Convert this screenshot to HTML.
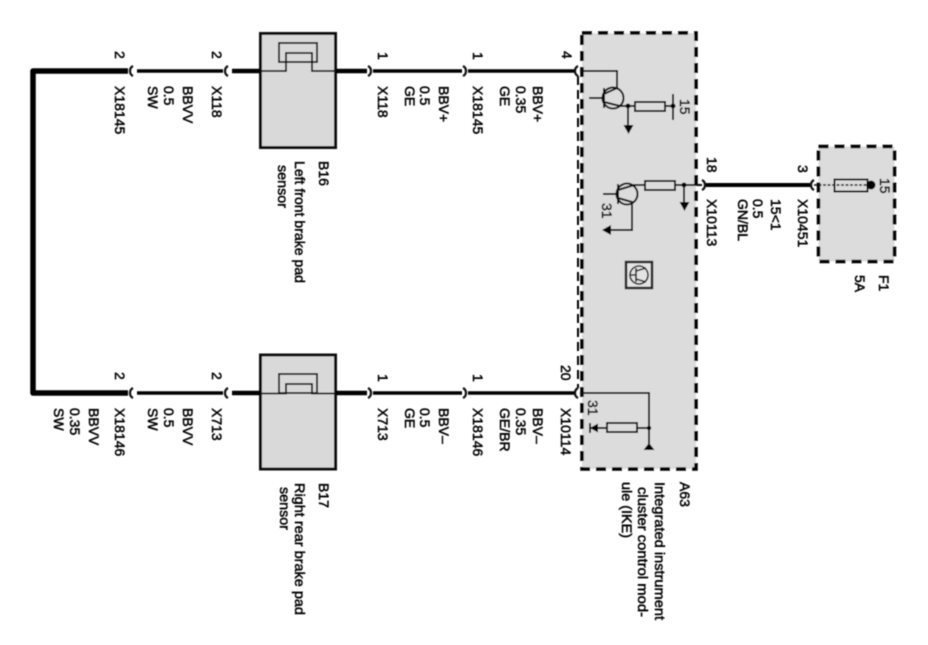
<!DOCTYPE html>
<html>
<head>
<meta charset="utf-8">
<style>
html,body{margin:0;padding:0;background:#fff;width:928px;height:645px;overflow:hidden}
svg{display:block}
text{font-family:"Liberation Sans",sans-serif;font-size:14px;fill:#000;stroke:#000;stroke-width:.5}
</style>
</head>
<body>
<svg width="928" height="645" viewBox="0 0 928 645" xmlns="http://www.w3.org/2000/svg">
<defs>
<filter id="b" x="-2%" y="-2%" width="104%" height="104%"><feGaussianBlur stdDeviation="0.45"/></filter>
</defs>
<g filter="url(#b)">
<!-- boxes -->
<rect x="260.500" y="33.500" width="75" height="114" fill="#d9d9d9" stroke="#111" stroke-width="3"/>
<rect x="260.500" y="355" width="75" height="114" fill="#d9d9d9" stroke="#111" stroke-width="3"/>
<rect x="582" y="33" width="114" height="436" fill="#dcdcdc" stroke="#000" stroke-width="3.500" stroke-dasharray="10 6"/>
<rect x="818.500" y="146.500" width="76" height="115" fill="#dcdcdc" stroke="#000" stroke-width="3.500" stroke-dasharray="10 6"/>
<line x1="578" y1="76" x2="578" y2="388" stroke="#000" stroke-width="2" stroke-dasharray="9 5"/>

<!-- thick wires -->
<path d="M128 71H33V393H128" fill="none" stroke="#000" stroke-width="5.500" stroke-linejoin="round"/>
<g stroke="#000" fill="none">
<path d="M137 71H223M137 393H223" stroke-width="3.500"/>
<path d="M232 71H260M232 393H260" stroke-width="4.500"/>
<path d="M336 71H367M336 393H367" stroke-width="4.500"/>
<path d="M373 71H462M373 393H462M468 71H575M468 393H575" stroke-width="3.500"/>
<path d="M706 185H810" stroke-width="4"/>
</g>

<!-- connectors -->
<g fill="none" stroke="#111" stroke-width="2.200">
<path d="M133 66C129 68 129 74 133 76M228 66C224 68 224 74 228 76"/>
<path d="M133 388C129 390 129 396 133 398M228 388C224 390 224 396 228 398"/>
<path d="M368 66C372 68 372 74 368 76M463 66C467 68 467 74 463 76"/>
<path d="M368 388C372 390 372 396 368 398M463 388C467 390 467 396 463 398"/>
<path d="M578 66C574 68 574 74 578 76M578 388C574 390 574 396 578 398"/>
<path d="M702 180C706 182 706 188 702 190M814 180C810 182 810 188 814 190"/>
</g>

<!-- sensor internals -->
<g fill="none" stroke="#111">
<rect x="279" y="43" width="38" height="19" stroke-width="1.800"/>
<path d="M260 71H286V53H312V71H336" stroke-width="1.800"/>
<rect x="279" y="374" width="38" height="19" stroke-width="1.800"/>
<path d="M260 393.500H286V384H312V393.500H336" stroke-width="1.800"/>
</g>

<!-- transistor circuit 1 -->
<g fill="none" stroke="#111" stroke-width="2">
<path d="M580 71H617V88"/>
<circle cx="613" cy="98" r="10.500"/>
<path d="M589 98H603M604 88V108M604 94L617 88M604 102L620 106H635M665 106H673M673 94V120M628 106V125"/>
<rect x="635" y="102" width="30" height="9"/>
</g>
<circle cx="628" cy="106" r="2.500" fill="#000"/>
<circle cx="673" cy="106" r="2.500" fill="#000"/>
<path d="M623.500 125H633.500L628.500 134Z" fill="#000"/>

<!-- transistor circuit 2 -->
<g fill="none" stroke="#111" stroke-width="2">
<circle cx="627" cy="194" r="10.500"/>
<path d="M603 194H617M618 184V204M618 190L634 185H645M675 185H702M684 185V203M618 198L632 202V230H609"/>
<rect x="645" y="181" width="30" height="9"/>
</g>
<circle cx="684" cy="185" r="2.500" fill="#000"/>
<path d="M679.500 202H689.500L684.500 211Z" fill="#000"/>
<path d="M611 225V235L602 230Z" fill="#000"/>

<!-- icon -->
<rect x="626" y="262" width="26" height="26" fill="#e4e4e4" stroke="#222" stroke-width="2.500"/>
<g fill="none" stroke="#222" stroke-width="1.600">
<circle cx="639" cy="275" r="9"/>
<path d="M630 275H636M636 268V282M636 271L646 268M636 279L646 282"/>
</g>

<!-- lower A63 circuit -->
<g fill="none" stroke="#111" stroke-width="2">
<path d="M580 393H649V445M590 428H607M637 428H649M590 423V433"/>
<rect x="607" y="423" width="30" height="9"/>
</g>
<circle cx="649" cy="428" r="2.200" fill="#000"/>
<path d="M649 443L654.500 450H643.500Z" fill="#000"/>
<path d="M598 423.500V432.500L590 428Z" fill="#000"/>

<!-- fuse -->
<g fill="none" stroke="#111">
<path d="M814 185H870" stroke-width="1.500" stroke-dasharray="3 1.500"/>
<rect x="834.500" y="179.500" width="33" height="12" stroke-width="2"/>
</g>
<circle cx="871" cy="185" r="4.500" fill="#000"/>

<!-- labels top -->
<text transform="translate(115,51) rotate(90)">2</text>
<text transform="translate(212,51) rotate(90)">2</text>
<text transform="translate(378,52) rotate(90)">1</text>
<text transform="translate(473,52) rotate(90)">1</text>
<text transform="translate(562,51) rotate(90)">4</text>
<text transform="translate(115,86) rotate(90)">X18145</text>
<text transform="translate(148,86) rotate(90)">SW</text>
<text transform="translate(164,86) rotate(90)">0.5</text>
<text transform="translate(183,86) rotate(90)">BBVV</text>
<text transform="translate(212,86) rotate(90)">X118</text>
<text transform="translate(378,86) rotate(90)">X118</text>
<text transform="translate(405,86) rotate(90)">GE</text>
<text transform="translate(420,86) rotate(90)">0.5</text>
<text transform="translate(439,86) rotate(90)">BBV+</text>
<text transform="translate(473,86) rotate(90)">X18145</text>
<text transform="translate(500,86) rotate(90)">GE</text>
<text transform="translate(516,86) rotate(90)">0.35</text>
<text transform="translate(533,86) rotate(90)">BBV+</text>
<text transform="translate(319,161) rotate(90)">B16</text>
<text transform="translate(295,161) rotate(90)" textLength="122" lengthAdjust="spacingAndGlyphs">Left front brake pad</text>
<text transform="translate(278,165) rotate(90)" textLength="43" lengthAdjust="spacingAndGlyphs">sensor</text>

<!-- labels bottom -->
<text transform="translate(115,372) rotate(90)">2</text>
<text transform="translate(212,372) rotate(90)">2</text>
<text transform="translate(378,374) rotate(90)">1</text>
<text transform="translate(473,374) rotate(90)">1</text>
<text transform="translate(561,365) rotate(90)">20</text>
<text transform="translate(54,408) rotate(90)">SW</text>
<text transform="translate(70,408) rotate(90)">0.35</text>
<text transform="translate(89,408) rotate(90)">BBVV</text>
<text transform="translate(115,408) rotate(90)">X18146</text>
<text transform="translate(148,408) rotate(90)">SW</text>
<text transform="translate(164,408) rotate(90)">0.5</text>
<text transform="translate(183,408) rotate(90)">BBVV</text>
<text transform="translate(212,408) rotate(90)">X713</text>
<text transform="translate(378,408) rotate(90)">X713</text>
<text transform="translate(405,408) rotate(90)">GE</text>
<text transform="translate(420,408) rotate(90)">0.5</text>
<text transform="translate(439,408) rotate(90)">BBV–</text>
<text transform="translate(473,408) rotate(90)">X18146</text>
<text transform="translate(500,408) rotate(90)">GE/BR</text>
<text transform="translate(516,408) rotate(90)">0.35</text>
<text transform="translate(533,408) rotate(90)">BBV–</text>
<text transform="translate(561,408) rotate(90)">X10114</text>
<text transform="translate(319,483) rotate(90)">B17</text>
<text transform="translate(295,483) rotate(90)" textLength="132" lengthAdjust="spacingAndGlyphs">Right rear brake pad</text>
<text transform="translate(280,487) rotate(90)" textLength="43" lengthAdjust="spacingAndGlyphs">sensor</text>

<!-- labels in A63 -->
<text transform="translate(680,99) rotate(90)">15</text>
<text transform="translate(602,203) rotate(90)">31</text>
<text transform="translate(588,400) rotate(90)">31</text>
<text transform="translate(680,482) rotate(90)">A63</text>
<text transform="translate(655,482) rotate(90)" textLength="138" lengthAdjust="spacingAndGlyphs">Integrated instrument</text>
<text transform="translate(638,487) rotate(90)" textLength="130" lengthAdjust="spacingAndGlyphs">cluster control mod-</text>
<text transform="translate(622,482) rotate(90)" textLength="56" lengthAdjust="spacingAndGlyphs">ule (IKE)</text>

<!-- labels right -->
<text transform="translate(707,157) rotate(90)">18</text>
<text transform="translate(798,165) rotate(90)">3</text>
<text transform="translate(707,199) rotate(90)">X10113</text>
<text transform="translate(738,199) rotate(90)">GN/BL</text>
<text transform="translate(753,199) rotate(90)">0.5</text>
<text transform="translate(771,199) rotate(90)">15&lt;1</text>
<text transform="translate(798,199) rotate(90)">X10451</text>
<text transform="translate(880,178) rotate(90)">15</text>
<text transform="translate(879,275) rotate(90)">F1</text>
<text transform="translate(855,275) rotate(90)">5A</text>
</g>
</svg>
</body>
</html>
